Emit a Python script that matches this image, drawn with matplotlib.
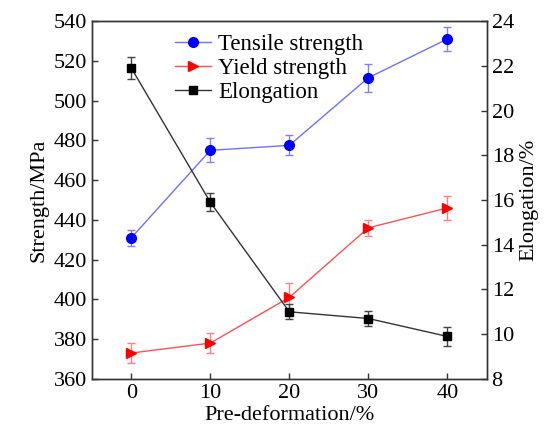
import matplotlib
matplotlib.use('Agg')
import matplotlib.pyplot as plt

# values
deformation = [0, 10, 20, 30, 40]
tensile = [431, 475, 477.5, 511.5, 531]
tensile_err = [4, 6, 5, 7, 6]
yield_str = [373, 378, 401, 436, 446]
yield_err = [5, 5, 7, 4, 6]
elongation = [21.9, 15.9, 11.0, 10.7, 9.9]
elongation_err = [0.5, 0.4, 0.33, 0.32, 0.42]

plt.rcParams['font.family'] = ['Liberation Serif', 'DejaVu Serif']
plt.rcParams['font.size'] = 16

fig, ax = plt.subplots(figsize=(5.5, 4.32), dpi=100)
fig.subplots_adjust(left=0.167, right=0.885, bottom=0.123, top=0.951)
ax2 = ax.twinx()

# strength on the left axis
h1 = ax.errorbar(deformation, tensile, yerr=tensile_err, color='#6f6fff', lw=1,
                 marker='o', ms=7, mfc='#0000ff', mec='#0000ff',
                 ecolor='#8080ff', elinewidth=1, capsize=3)
h2 = ax.errorbar(deformation, yield_str, yerr=yield_err, color='#ff5050', lw=1,
                 marker='>', ms=7, mfc='#ff0000', mec='#ff0000',
                 ecolor='#ff8080', elinewidth=1, capsize=3)
# elongation on the right axis
h3 = ax2.errorbar(deformation, elongation, yerr=elongation_err, color='#333333', lw=1,
                  marker='s', ms=6, mfc='black', mec='black',
                  ecolor='#444444', elinewidth=1, capsize=3)

ax.set_xlim(-5, 45)
ax.set_ylim(360, 540)
ax.set_xticks(deformation)
ax.set_yticks(range(360, 541, 20))
ax2.set_ylim(8, 24)
ax2.set_yticks(range(8, 25, 2))

ax.set_xlabel('Pre-deformation/%', labelpad=2)
ax.set_ylabel('Strength/MPa')
ax2.set_ylabel('Elongation/%')

for a in (ax, ax2):
    a.tick_params(direction='in', length=4, width=1, colors='#333333',
                  labelcolor='black', labelsize=16)
    for s in a.spines.values():
        s.set_color('#333333')
        s.set_linewidth(1)
ax.tick_params(right=False, top=False)

ax.legend([h1[0], h2[0], h3[0]], ['Tensile strength', 'Yield strength', 'Elongation'],
          loc='upper left', bbox_to_anchor=(0.21, 0.964), frameon=False,
          fontsize=16.5, handlelength=1.6, handletextpad=0.28,
          labelspacing=0.12, borderpad=0, borderaxespad=0)

fig.savefig('out.png', dpi=100)
